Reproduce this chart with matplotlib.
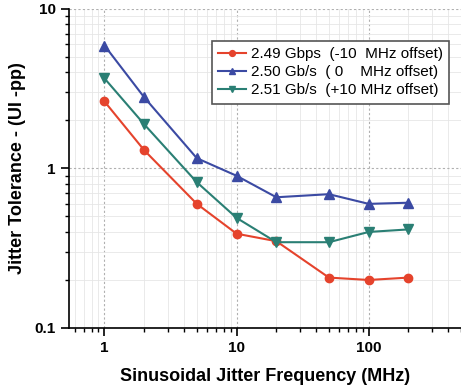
import matplotlib.pyplot as plt
from matplotlib.ticker import NullFormatter

plt.rcParams['font.family'] = ['Liberation Sans', 'DejaVu Sans']

freq = [1, 2, 5, 10, 20, 50, 100, 200]  # MHz
jt_249 = [2.63, 1.30, 0.60, 0.39, 0.35, 0.207, 0.20, 0.207]  # -10 MHz offset
jt_250 = [5.9, 2.79, 1.16, 0.90, 0.66, 0.69, 0.60, 0.61]  # 0 MHz offset
jt_251 = [3.67, 1.89, 0.82, 0.49, 0.345, 0.345, 0.40, 0.415]  # +10 MHz offset

fig = plt.figure(figsize=(4.61, 3.90), dpi=100)
ax = fig.add_axes([0.150, 0.159, 0.85, 0.818])

ax.plot(freq, jt_249, color='#e5432c', marker='o', ms=6, lw=1.5,
        label='2.49 Gbps  (-10  MHz offset)')
ax.plot(freq, jt_250, color='#3b4aa3', marker='^', ms=7, lw=1.5,
        label='2.50 Gb/s  ( 0    MHz offset)')
ax.plot(freq, jt_251, color='#2a7f74', marker='v', ms=7, lw=1.5,
        label='2.51 Gb/s  (+10 MHz offset)')

ax.set_xscale('log')
ax.set_yscale('log')
ax.set_xlim(0.54, 500)
ax.set_ylim(0.1, 10)

ax.set_xticks([1, 10, 100])
ax.set_xticklabels(['1', '10', '100'])
ax.set_yticks([0.1, 1, 10])
ax.set_yticklabels(['0.1', '1', '10'])
ax.yaxis.set_minor_formatter(NullFormatter())
ax.xaxis.set_minor_formatter(NullFormatter())

ax.grid(which='minor', color='#e6e6e6', lw=0.6, ls='-')
ax.grid(which='major', color='#b0b0b0', lw=0.8, ls=(0, (2, 2)))

for s in ['top', 'right']:
    ax.spines[s].set_visible(False)
ax.spines['left'].set_linewidth(1.2)
ax.spines['bottom'].set_linewidth(1.2)
ax.tick_params(which='major', length=6, width=1.2, labelsize=11)
ax.tick_params(which='minor', length=3, width=1)
for lab in ax.get_xticklabels() + ax.get_yticklabels():
    lab.set_fontweight('bold')

ax.set_xlabel('Sinusoidal Jitter Frequency (MHz)', fontsize=13, fontweight='bold', labelpad=9)
ax.set_ylabel('Jitter Tolerance - (UI -pp)', fontsize=13, fontweight='bold', labelpad=6)

leg = ax.legend(loc='upper right', bbox_to_anchor=(0.99, 0.925), fontsize=11,
                fancybox=False, handlelength=1.8, handletextpad=0.3,
                borderpad=0.45, labelspacing=0.25, markerscale=0.7)
leg.get_frame().set_edgecolor('#555555')
leg.get_frame().set_linewidth(1.2)
leg.get_frame().set_alpha(1)

fig.savefig('out.png', dpi=100)
